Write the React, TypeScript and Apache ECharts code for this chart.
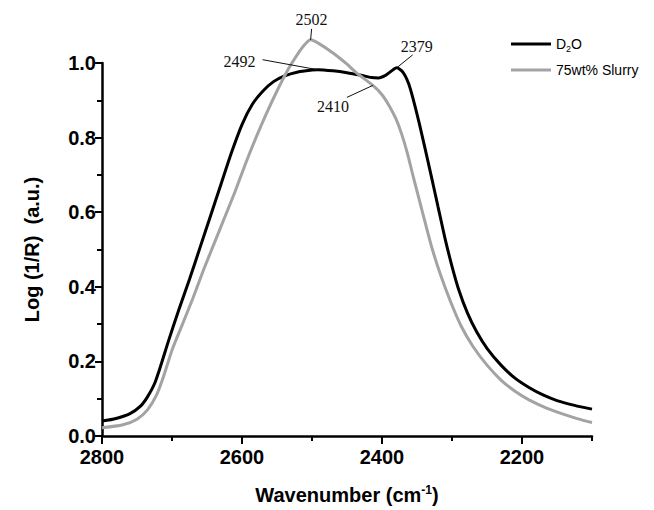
import React, { useEffect, useRef } from 'react';
import * as echarts from 'echarts';

const d2oWavenumbers = [2800, 2780, 2760, 2745, 2735, 2725, 2715, 2705, 2690, 2675, 2660, 2645, 2630, 2615, 2600, 2585, 2570, 2555, 2540, 2520, 2500, 2492, 2470, 2450, 2430, 2415, 2405, 2395, 2387, 2379, 2370, 2362, 2355, 2347, 2339, 2330, 2320, 2310, 2300, 2290, 2278, 2265, 2250, 2230, 2210, 2190, 2170, 2150, 2125, 2100];
const d2oValues = [0.04, 0.047, 0.06, 0.08, 0.105, 0.14, 0.195, 0.255, 0.34, 0.42, 0.505, 0.59, 0.675, 0.76, 0.835, 0.89, 0.925, 0.95, 0.965, 0.976, 0.981, 0.982, 0.979, 0.974, 0.967, 0.961, 0.96, 0.967, 0.978, 0.987, 0.975, 0.945, 0.9, 0.84, 0.775, 0.7, 0.615, 0.53, 0.455, 0.39, 0.33, 0.28, 0.235, 0.19, 0.155, 0.13, 0.11, 0.095, 0.082, 0.072];

const slurryWavenumbers = [2800, 2770, 2750, 2735, 2722, 2712, 2700, 2685, 2670, 2655, 2640, 2625, 2610, 2595, 2580, 2565, 2550, 2535, 2520, 2510, 2502, 2490, 2470, 2450, 2436, 2413, 2400, 2389, 2380, 2372, 2364, 2356, 2347, 2338, 2328, 2316, 2302, 2287, 2270, 2250, 2230, 2210, 2190, 2165, 2140, 2120, 2100];
const slurryValues = [0.022, 0.03, 0.045, 0.07, 0.11, 0.16, 0.23, 0.3, 0.37, 0.445, 0.515, 0.585, 0.655, 0.73, 0.8, 0.865, 0.925, 0.98, 1.025, 1.05, 1.062, 1.052, 1.027, 0.997, 0.973, 0.94, 0.915, 0.883, 0.85, 0.81, 0.76, 0.7, 0.635, 0.57, 0.5, 0.43, 0.36, 0.295, 0.24, 0.19, 0.15, 0.12, 0.097, 0.075, 0.058, 0.046, 0.036];

const xLabelValues = [2800, 2600, 2400, 2200];
const seriesNames = ['D2O', '75wt% Slurry'];

// annotation: text, anchor point on curve (data), line start offset and label offset in px
const annotationTexts = ['2502', '2379', '2492', '2410'];
const annotationPoints = [[2502, 1.062], [2379, 0.987], [2492, 0.982], [2413, 0.94]];
const annotationLineOffsets = [[1, -11], [16, -13], [-55, -10], [-26, 12]];
const annotationLabelOffsets = [[1, -20], [20, -21], [-78, -8], [-40, 21]];

export default function App() {
  const ref = useRef<HTMLDivElement>(null);
  useEffect(() => {
    if (!ref.current) return;
    const chart = echarts.init(ref.current, null, { renderer: 'svg' });
    const d2o = d2oWavenumbers.map((w, i) => [w, d2oValues[i]]);
    const slurry = slurryWavenumbers.map((w, i) => [w, slurryValues[i]]);
    const axisFont = { fontFamily: 'Liberation Sans, Arial, sans-serif', fontWeight: 'bold' as const, color: '#000' };
    chart.setOption({
      animation: false,
      backgroundColor: '#fff',
      grid: { left: 102, right: 62, top: 63, bottom: 72 },
      legend: {
        left: 506,
        top: 31,
        orient: 'vertical',
        icon: 'rect',
        itemWidth: 40,
        itemHeight: 3,
        itemGap: 10,
        data: seriesNames,
        formatter: (name: string) => (name === 'D2O' ? '{n|D}{s|2}{n|O}' : '{n|' + name + '}'),
        textStyle: {
          fontFamily: 'Liberation Sans, Arial, sans-serif',
          fontSize: 14,
          color: '#000',
          rich: {
            n: { fontSize: 14, fontFamily: 'Liberation Sans, Arial, sans-serif', color: '#000', lineHeight: 18 },
            s: { fontSize: 9, fontFamily: 'Liberation Sans, Arial, sans-serif', color: '#000', lineHeight: 18, verticalAlign: 'bottom', padding: [8, 0, 0, 0] },
          },
        },
      },
      xAxis: [
        {
          type: 'value',
          min: 2100,
          max: 2800,
          interval: 100,
          inverse: true,
          position: 'bottom',
          axisLine: { show: true, onZero: false, lineStyle: { color: '#000', width: 2.5 } },
          axisTick: { show: true, inside: false, length: 5, lineStyle: { color: '#000', width: 2 } },
          splitLine: { show: false },
          axisLabel: { customValues: xLabelValues, fontSize: 20, margin: 11, formatter: (v: number) => String(v), ...axisFont },
          name: '{t|Wavenumber (cm}{u|-1}{t|)}',
          nameLocation: 'middle',
          nameGap: 48,
          nameTextStyle: {
            rich: {
              t: { fontSize: 20, ...axisFont },
              u: { fontSize: 12, ...axisFont, verticalAlign: 'top', padding: [0, 0, 10, 0] },
            },
          },
        },
        {
          type: 'value',
          min: 2100,
          max: 2800,
          inverse: true,
          position: 'bottom',
          axisLine: { show: false, onZero: false },
          axisTick: { show: true, customValues: xLabelValues, length: 8, lineStyle: { color: '#000', width: 2 } },
          axisLabel: { show: false },
          splitLine: { show: false },
        },
      ],
      yAxis: {
        type: 'value',
        min: 0,
        max: 1,
        interval: 0.2,
        axisLine: { show: true, onZero: false, lineStyle: { color: '#000', width: 2.5 } },
        axisTick: { show: true, length: 7, lineStyle: { color: '#000', width: 2 } },
        minorTick: { show: true, splitNumber: 2, length: 5, lineStyle: { color: '#000', width: 2 } },
        splitLine: { show: false },
        minorSplitLine: { show: false },
        axisLabel: { fontSize: 20, margin: 6, lineHeight: 20, formatter: (v: number) => v.toFixed(1), ...axisFont },
        name: 'Log (1/R)  (a.u.)',
        nameLocation: 'middle',
        nameGap: 60,
        nameTextStyle: { fontSize: 20, ...axisFont },
      },
      series: [
        {
          name: seriesNames[0],
          type: 'line',
          data: d2o,
          symbol: 'none',
          smooth: 0.25,
          clip: false,
          lineStyle: { color: '#000', width: 3 },
          itemStyle: { color: '#000' },
        },
        {
          name: seriesNames[1],
          type: 'line',
          data: slurry,
          symbol: 'none',
          smooth: 0.25,
          clip: false,
          lineStyle: { color: '#a3a3a3', width: 3 },
          itemStyle: { color: '#a3a3a3' },
        },
      ],
    });

    const graphics: any[] = [];
    annotationTexts.forEach((t, i) => {
      const p = chart.convertToPixel({ gridIndex: 0 }, annotationPoints[i]) as number[];
      const lo = annotationLineOffsets[i];
      const to = annotationLabelOffsets[i];
      graphics.push({
        type: 'line',
        shape: { x1: p[0] + lo[0], y1: p[1] + lo[1], x2: p[0], y2: p[1] },
        style: { stroke: '#111', lineWidth: 1 },
        z: 10,
      });
      graphics.push({
        type: 'text',
        x: p[0] + to[0],
        y: p[1] + to[1],
        style: {
          text: t,
          fontFamily: 'Liberation Serif, Times New Roman, serif',
          fontSize: 16,
          fill: '#111',
          align: 'center',
          verticalAlign: 'middle',
        },
        z: 10,
      });
    });
    chart.setOption({ graphic: graphics });

    return () => chart.dispose();
  }, []);
  return <div ref={ref} style={{ width: 654, height: 510, position: 'absolute', left: 0, top: 0 }} />;
}
